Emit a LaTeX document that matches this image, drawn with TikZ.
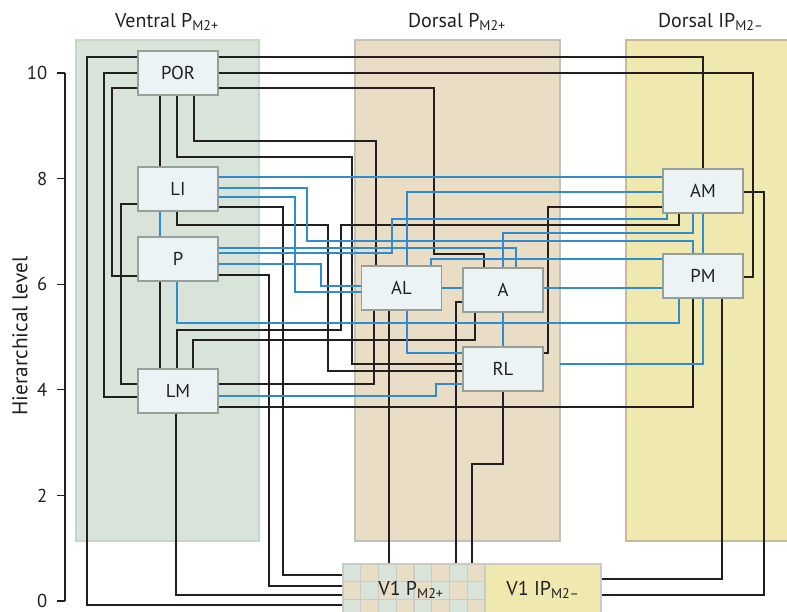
\documentclass[tikz,border=0pt]{standalone}
\usepackage{fontspec}
\setmainfont{PT Sans}
\definecolor{lineblack}{RGB}{35,31,32}
\definecolor{lineblue}{RGB}{48,140,206}
\definecolor{boxfill}{RGB}{235,243,245}
\definecolor{boxedge}{RGB}{150,160,152}
\definecolor{vgreen}{RGB}{216,227,217}
\definecolor{vgreenedge}{RGB}{198,214,199}
\definecolor{vtan}{RGB}{233,221,197}
\definecolor{vtanedge}{RGB}{192,196,184}
\definecolor{ipyellow}{RGB}{239,233,176}
\definecolor{ipedge}{RGB}{200,186,150}
\definecolor{gridcol}{RGB}{200,204,196}
\definecolor{textcol}{RGB}{35,31,32}
\begin{document}
\begin{tikzpicture}[x=0.75pt,y=-0.75pt,
  blk/.style={draw=lineblack,line width=1.1pt},
  blu/.style={draw=lineblue,line width=1.1pt},
  box/.style={draw=boxedge,fill=boxfill,line width=1pt,minimum width=60pt,minimum height=33pt,inner sep=0pt,text=textcol,font=\fontsize{14}{16}\selectfont},
  title/.style={font=\fontsize{15}{18}\selectfont,text=textcol,anchor=base},
  ticklab/.style={font=\fontsize{14}{16}\selectfont,text=textcol,anchor=east},
  axisline/.style={draw=lineblack,line width=0.8pt}
]
\useasboundingbox (0,0) rectangle (787,611);
\clip (0,0) rectangle (787,611);

% regions
\path[fill=vgreen,draw=vgreenedge,line width=0.8pt] (76,40) rectangle (259,541);
\path[fill=vtan,draw=vtanedge,line width=0.8pt] (355,40) rectangle (560,541);
\path[fill=ipyellow,draw=ipedge,line width=0.8pt] (626,40) rectangle (800,541);

% titles
\node[title] (tv) at (167,27) {Ventral P\textsubscript{M2+}};
\node[title] (td) at (457,27) {Dorsal P\textsubscript{M2+}};
\node[title] (ti) at (711,27) {Dorsal IP\textsubscript{M2–}};

% axis
\draw[axisline] (65,73) -- (65,601);
\foreach \v/\yy in {10/73,8/178.6,6/284.2,4/389.8,2/495.4,0/601}{
  \draw[axisline] (57,\yy) -- (65,\yy);
  \node[ticklab] (tick\v) at (52,\yy) {\v};
}
\node[rotate=90,font=\fontsize{16}{18}\selectfont,text=textcol] (ylab) at (20,336) {Hierarchical level};

% V1 checkerboard
\foreach \i in {0,...,7}{\foreach \j in {0,...,2}{
  \pgfmathtruncatemacro{\cellpar}{mod(\i+\j,2)}
  \ifnum\cellpar=0 \def\cc{vgreen}\else\def\cc{vtan}\fi
  \path[fill=\cc,draw=gridcol,line width=0.8pt] ({343+\i*17.75},{564+\j*17.75}) rectangle ++(17.75,17.75);
}}
\node[draw=gridcol,line width=1.2pt,minimum width=106.5pt,minimum height=42pt,inner sep=0pt] (V1P) at (414,592) {};
\node[title] (v1ptext) at (411,595) {V1 P\textsubscript{M2+}};
\node[draw=gridcol,fill=ipyellow,line width=1.2pt,minimum width=87pt,minimum height=42pt,inner sep=0pt] (V1IP) at (543,592) {};
\node[title] (v1iptext) at (543,595) {V1 IP\textsubscript{M2–}};

% area boxes
\node[box] (POR) at (178,73) {POR};
\node[box] (LI) at (178,189) {LI};
\node[box] (P) at (178,259) {P};
\node[box] (LM) at (178,391) {LM};
\node[box] (AL) at (401.5,288) {AL};
\node[box] (A) at (503,290) {A};
\node[box] (RL) at (503,369) {RL};
\node[box] (AM) at (703,191) {AM};
\node[box] (PM) at (703,276) {PM};
\coordinate (dedge) at (560,364);

% black connectors
\draw[blk] (POR.west |- 0,57) -| (87,605) -- (V1P.west |- 0,605);
\draw[blk] (POR.west |- 0,73) -| (104,397) -- (LM.west |- 0,397);
\draw[blk] (POR.west |- 0,88) -| (112,276) -- (P.west |- 0,276);
\draw[blk] (LI.west |- 0,204) -| (121,384) -- (LM.west |- 0,384);
\draw[blk] (POR.south -| 160,0) -- (LI.north -| 160,0);
\draw[blk] (POR.south -| 177,0) |- (352,157) |- (RL.west |- 0,364);
\draw[blk] (POR.south -| 194,0) |- (376,141) -- (AL.north -| 376,0);
\draw[blk] (POR.east |- 0,57) -| (AM.north -| 703,0);
\draw[blk] (POR.east |- 0,73) -| (753,277) -- (PM.east |- 0,277);
\draw[blk] (POR.east |- 0,88) -| (434,254) -| (A.north -| 484,0);
\draw[blk] (AM.east |- 0,192) -| (764,595) -- (V1IP.east |- 0,595);
\draw[blk] (PM.south -| 693,0) |- (LM.east |- 0,407);
\draw[blk] (PM.south -| 722,0) |- (V1IP.east |- 0,579);
\draw[blk] (AM.south -| 679,0) |- (341,225) |- (177,330) -- (LM.north -| 177,0);
\draw[blk] (A.south -| 475,0) |- (193,340) -- (LM.north -| 193,0);
\draw[blk] (LI.south -| 177,0) |- (328,225) |- (RL.west |- 0,371);
\draw[blk] (LI.east |- 0,207) -| (283,575) -- (V1P.west |- 0,575);
\draw[blk] (P.east |- 0,275) -| (269,586) -- (V1P.west |- 0,586);
\draw[blk] (LM.south -| 176,0) |- (V1P.west |- 0,595);
\draw[blk] (AL.south -| 389,0) -- (V1P.north -| 389,0);
\draw[blk] (A.west |- 0,302) -| (V1P.north -| 456,0);
\draw[blk] (RL.south -| 503,0) |- (472,464) -- (V1P.north -| 472,0);
\draw[blk] (AL.south -| 374,0) |- (LM.east |- 0,384);
\draw[blk] (RL.east |- 0,353) -| (548,207) -- (AM.west |- 0,207);
\draw[blk] (P.south -| 160,0) -- (LM.north -| 160,0);

% blue connectors
\draw[blu] (LI.east |- 0,177) -- (AM.west |- 0,177);
\draw[blu] (LI.east |- 0,188) -| (307,241) -| (PM.north -| 693,0);
\draw[blu] (LI.east |- 0,197) -| (295,292) -- (AL.west |- 0,292);
\draw[blu] (LI.south -| 160,0) -- (P.north -| 160,0);
\draw[blu] (P.east |- 0,248) -| (A.north -| 516,0);
\draw[blu] (P.east |- 0,253) -| (392,219) -| (AM.south -| 667,0);
\draw[blu] (P.east |- 0,264) -| (321,286) -- (AL.west |- 0,286);
\draw[blu] (P.south -| 177,0) |- (679,323) -- (PM.south -| 679,0);
\draw[blu] (AL.north -| 407,0) |- (AM.west |- 0,192);
\draw[blu] (AL.north -| 431,0) |- (PM.west |- 0,259);
\draw[blu] (A.north -| 503,0) |- (693,233) -- (AM.south -| 693,0);
\draw[blu] (AM.south -| 703,0) -- (PM.north -| 703,0);
\draw[blu] (AL.east |- 0,288) -- (A.west |- 0,288);
\draw[blu] (A.east |- 0,288) -- (PM.west |- 0,288);
\draw[blu] (AL.south -| 407,0) |- (RL.west |- 0,353);
\draw[blu] (A.south -| 503,0) -- (RL.north -| 503,0);
\draw[blu] (RL.west |- 0,384) -| (436,396) -- (LM.east |- 0,396);
\draw[blu] (PM.south -| 703,0) |- (dedge);
\end{tikzpicture}
\end{document}
